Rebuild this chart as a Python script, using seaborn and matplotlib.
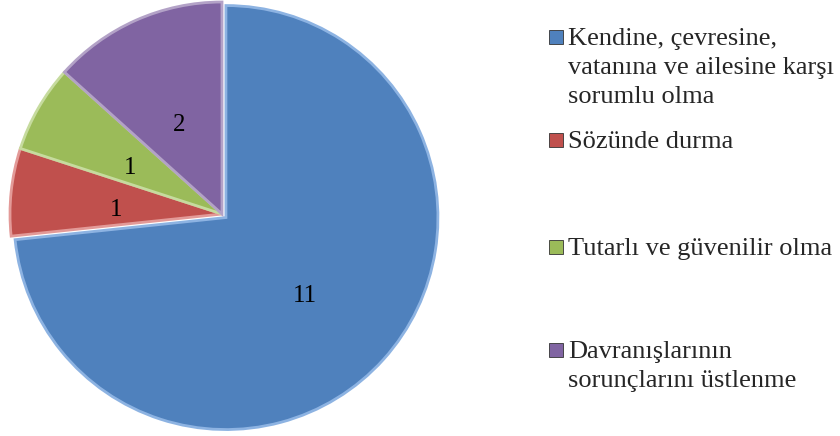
import matplotlib
matplotlib.use("Agg")
import matplotlib.pyplot as plt
import seaborn as sns
from matplotlib.patches import Rectangle

labels = [["Kendine, çevresine,", "vatanına ve ailesine karşı", "sorumlu olma"],
          ["Sözünde durma"],
          ["Tutarlı ve güvenilir olma"],
          ["Davranışlarının", "sorunçlarını üstlenme"]]
counts = [11, 1, 1, 2]
colors = ["#4F81BD", "#C0504D", "#9BBB59", "#8064A2"]
edge_colors = ["#8DB3E2", "#E39A98", "#C6DB9E", "#B3A2C7"]
explode = [0.025, 0, 0, 0]

sns.set_theme(style="white")
plt.rcParams['font.family'] = ['Liberation Serif', 'DejaVu Serif']

W, H = 840, 436
fig = plt.figure(figsize=(W / 100, H / 100), dpi=100)

cx, cy, r = 222, 214, 212
lim = 1.05
size = r * lim
ax = fig.add_axes([(cx - size) / W, (H - cy - size) / H, 2 * size / W, 2 * size / H])

wedges, texts, autotexts = ax.pie(
    counts, colors=colors, startangle=90, counterclock=False,
    explode=explode, autopct=lambda p: "%d" % round(p * sum(counts) / 100),
    pctdistance=0.5, textprops=dict(fontsize=18, color="black"),
    wedgeprops=dict(linewidth=2))
for w, ec in zip(wedges, edge_colors):
    w.set_edgecolor(ec)
# digits sit a little lower than matplotlib's bbox centring
for t in autotexts:
    x, y = t.get_position()
    t.set_position((x, y - 0.035))
ax.set_xlim(-lim, lim)
ax.set_ylim(-lim, lim)
ax.set_aspect("equal")

# legend drawn by hand to keep the uneven spacing of the original
legend_base = [45, 148, 255, 358]
line_step = 29
for lines, col, y in zip(labels, colors, legend_base):
    fig.patches.append(Rectangle((549 / W, (H - y + 1) / H), 14 / W, 14 / H,
                                 transform=fig.transFigure, facecolor=col,
                                 edgecolor="#333333", linewidth=0.6))
    for i, line in enumerate(lines):
        fig.text(568 / W, (H - y - i * line_step) / H, line, fontsize=19,
                 va="baseline", ha="left")

fig.savefig("out.png", dpi=100)
